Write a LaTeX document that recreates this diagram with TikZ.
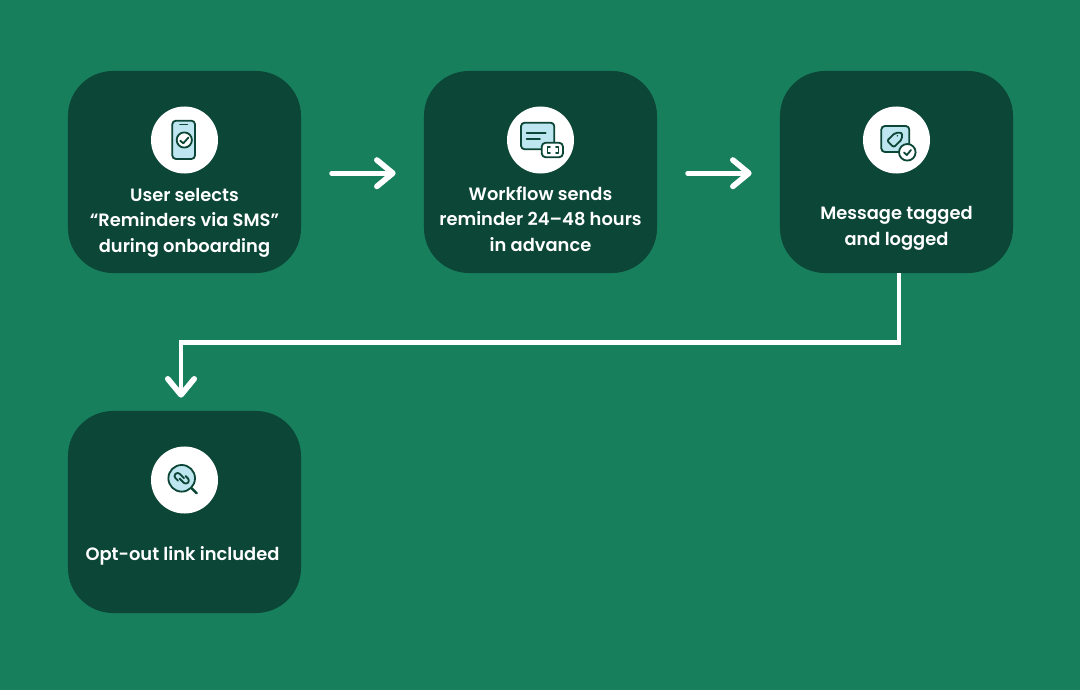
\documentclass[tikz,border=0pt]{standalone}
\usepackage{fontspec}
\setmainfont{Poppins SemiBold}
\usetikzlibrary{arrows.meta}
\definecolor{bggreen}{RGB}{24,127,93}
\definecolor{boxgreen}{RGB}{12,70,54}
\definecolor{iconblue}{RGB}{189,230,240}
\tikzset{
    stepbox/.style={fill=boxgreen,rounded corners=1.125cm,minimum width=5.825cm,minimum height=5.05cm,inner sep=0pt},
    steptext/.style={text=white,align=center,inner sep=0pt,font=\fontsize{12.7pt}{18.1pt}\selectfont},
    iconcircle/.style={fill=white,circle,minimum size=1.675cm,inner sep=0pt},
    flowarrow/.style={draw=white,line width=3.5pt,line cap=round,line join=miter,-{Straight Barb[round,length=0.4cm,width=0.66cm,line width=4pt]}},
    iconline/.style={draw=boxgreen,line width=1.3pt,line cap=round,line join=round}
}
\begin{document}
\begin{tikzpicture}[x=0.025cm,y=-0.025cm]
    \fill[bggreen] (0,0) rectangle (1080,690);
    \useasboundingbox (0,0) rectangle (1080,690);

    \node[stepbox] (user) at (184.5,172) {};
    \node[stepbox] (workflow) at (540.5,172) {};
    \node[stepbox] (message) at (896.5,172) {};
    \node[stepbox] (optout) at (184.5,512) {};

    \node[iconcircle] (usericon) at (184.5,140) {};
    \node[iconcircle] (workflowicon) at (540.5,140) {};
    \node[iconcircle] (messageicon) at (896.5,140) {};
    \node[iconcircle] (optouticon) at (184.5,480) {};

    \node[steptext] (usertext) at (184.5,222.5) {User selects\\“Reminders via SMS”\\during onboarding};
    \node[steptext] (workflowtext) at (540.5,219) {Workflow sends\\reminder 24–48 hours\\in advance};
    \node[steptext] (messagetext) at (896.5,228.5) {Message tagged\\and logged};
    \node[steptext] (optouttext) at (182.5,555.5) {Opt-out link included};

    % phone
    \draw[iconline,fill=iconblue,rounded corners=0.09cm] (172.3,120.7) rectangle (195,159);
    \draw[iconline] (180,124.5)--(187.3,124.5);
    \draw[iconline,fill=white] (184.3,140) circle (7.6);
    \draw[iconline] (180.2,140.7)--(183.3,143.3)--(188.5,137.5);

    % card with code
    \draw[iconline,fill=iconblue,rounded corners=0.09cm] (521,122.7) rectangle (554.3,149.3);
    \draw[iconline] (526.7,132.7)--(545.7,132.7);
    \draw[iconline] (526.7,139.3)--(540,139.3);
    \draw[iconline,fill=white,rounded corners=0.1cm] (541.7,142.7) rectangle (563,157.3);
    \draw[iconline] (550,147.3)--(547.5,147.3)--(547.5,152.7)--(550,152.7);
    \draw[iconline] (556,147.3)--(558.5,147.3)--(558.5,152.7)--(556,152.7);

    % tag with check
    \draw[iconline,fill=iconblue,rounded corners=0.09cm] (881.3,126) rectangle (909.3,152);
    \draw[iconline,rounded corners=0.05cm] (887,140.7)--(895.3,132.7)--(902,132.7)--(902,139.3)--(893.7,147.3)--cycle;
    \fill[boxgreen] (897.3,135.8) circle (0.8);
    \draw[iconline,fill=white] (907.3,152.3) circle (8.3);
    \draw[iconline] (904,152.5)--(906.8,155)--(911,150);

    % lens with link
    \draw[iconline,line width=1.7pt] (191.7,488.3)--(196.7,493.3);
    \draw[iconline,fill=iconblue] (181.7,478.3) circle (13.3);
    \begin{scope}[shift={(181.7,478.3)},rotate=-45]
        \draw[iconline,rounded corners=0.07cm] (1.5,-1.7)--(-7.5,-1.7)--(-7.5,4.3)--(-1,4.3);
        \draw[iconline,rounded corners=0.07cm] (-1.5,1.7)--(7.5,1.7)--(7.5,-4.3)--(1,-4.3);
    \end{scope}

    \draw[flowarrow] ([xshift=0.76cm,yshift=-0.03cm]user.east)--([xshift=-0.7cm,yshift=-0.03cm]workflow.west);
    \draw[flowarrow] ([xshift=0.76cm,yshift=-0.03cm]workflow.east)--([xshift=-0.7cm,yshift=-0.03cm]message.west);
    \draw[flowarrow,line cap=butt] ([xshift=0.0625cm]message.south)--++(0,69)-|([xshift=-0.0875cm,yshift=0.325cm]optout.north);
\end{tikzpicture}
\end{document}
